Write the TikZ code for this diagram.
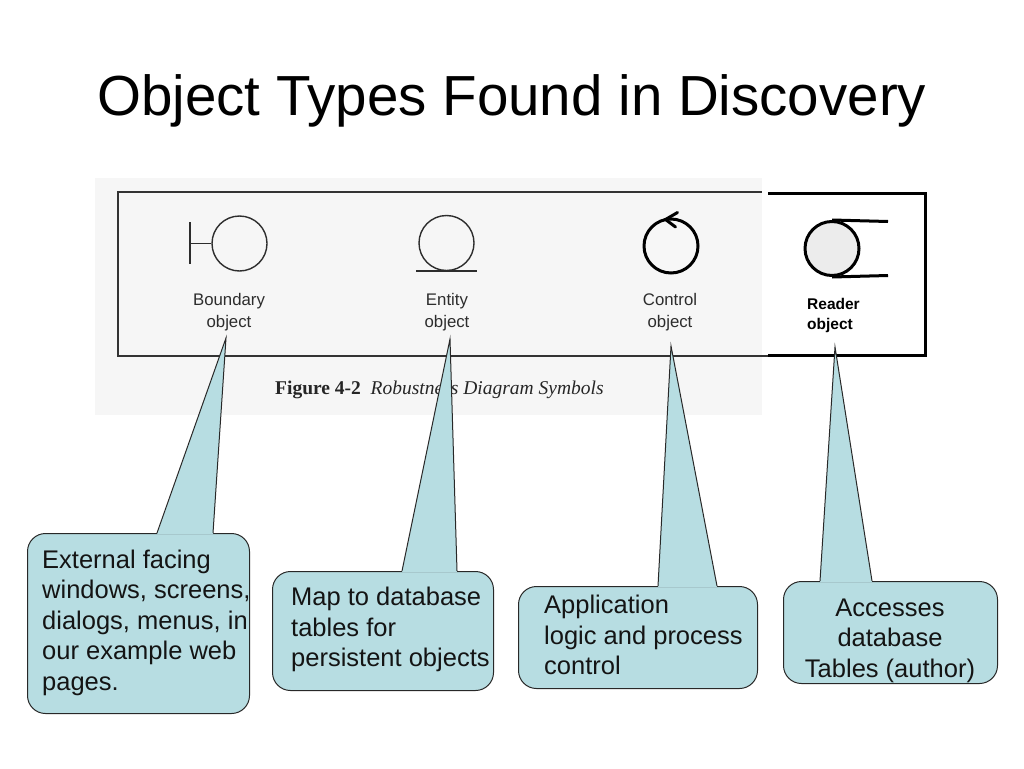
\documentclass[tikz,border=0pt]{standalone}
\usepackage{fontspec}
\setmainfont{Liberation Sans}
\newfontfamily\capfont{Liberation Serif}
\definecolor{callfill}{RGB}{183,221,226}
\definecolor{callline}{RGB}{40,40,40}
\definecolor{scanink}{RGB}{45,45,45}
\definecolor{scanbg}{RGB}{246,246,246}
\definecolor{readerfill}{RGB}{236,236,236}
\begin{document}
\begin{tikzpicture}[x=1pt,y=-1pt,
  calloutbox/.style={draw=callline, fill=callfill, line width=1pt, rounded corners=18pt, inner sep=0pt, anchor=north west},
  callouttext/.style={font=\fontsize{25.5}{30.5}\selectfont, text=black!92, inner sep=0pt, align=left},
  scanlabel/.style={font=\fontsize{16.8}{22}\selectfont, text=scanink, inner sep=0pt, align=center, anchor=north},
  scanline/.style={draw=scanink, line width=1.4pt},
  boldsym/.style={draw=black, line width=3pt},
  pointerfill/.style={fill=callfill},
  pointerline/.style={draw=callline, line width=1pt, line join=miter},
]
\useasboundingbox (0,0) rectangle (1024,768);
\fill[white] (0,0) rectangle (1024,768);

% title
\node[anchor=base west, inner sep=0pt, font=\fontsize{56.5}{60}\selectfont] (title) at (97,115) {Object Types Found in Discovery};

% scanned figure background
\fill[scanbg] (95,178) rectangle (762,415);
\draw[draw=black!80, line width=1.5pt] (770,192) -- (118,192) -- (118,356) -- (770,356);

% reader panel
\fill[white] (762,180) rectangle (925,355);
\draw[boldsym, line join=miter] (768,193) -- (925,193) -- (925,355) -- (768,355);

% caption
\node[anchor=base west, inner sep=0pt, font=\capfont\fontsize{19.5}{24}\selectfont, text=black!85] (cap) at (275,394) {\textbf{Figure 4-2}\enspace\textit{Robustness Diagram Symbols}};

% boundary symbol
\node[circle, scanline, minimum size=55pt, inner sep=0pt] (bcirc) at (239.5,243.5) {};
\coordinate (bbar) at (190,243.5);
\draw[scanline] (190,222) -- (190,264);
\draw[scanline] (bbar) -- (bcirc.west);
\node[scanlabel] (blab) at (229,293) {Boundary\\object};

% entity symbol
\node[circle, scanline, minimum size=55pt, inner sep=0pt] (ecirc) at (446.5,243) {};
\draw[scanline] (416,271) -- (477,271);
\node[scanlabel] (elab) at (447,293) {Entity\\object};

% control symbol
\node[circle, boldsym, fill=black!3, minimum size=54pt, inner sep=0pt] (ccirc) at (671,246) {};
\draw[boldsym, line cap=round, line join=miter] (677.5,212.5) -- (665.5,219.5) -- (675.5,227);
\node[scanlabel] (clab) at (670,293) {Control\\object};

% reader symbol
\coordinate (rtop) at (888,221.5);
\coordinate (rbot) at (888,275.5);
\node[circle, boldsym, fill=readerfill, minimum size=54pt, inner sep=0pt] (rcirc) at (832,248.5) {};
\draw[boldsym] (rcirc.north) -- (rtop);
\draw[boldsym] (rcirc.south) -- (rbot);
\node[anchor=north west, inner sep=0pt, align=left, font=\bfseries\fontsize{15.5}{20}\selectfont] (rlab) at (807,298.5) {Reader\\object};

% pointer tips
\coordinate (tip1) at (226,338);
\coordinate (tip2) at (450,339);
\coordinate (tip3) at (671,346);
\coordinate (tip4) at (835,347);

% callout boxes
\node[calloutbox, minimum width=222pt, minimum height=180pt] (b1) at (27,533) {};
\node[calloutbox, minimum width=221pt, minimum height=119pt] (b2) at (272,571) {};
\node[calloutbox, minimum width=239pt, minimum height=102pt] (b3) at (518,586) {};
\node[calloutbox, minimum width=214pt, minimum height=102pt] (b4) at (783,581) {};

% pointer bases
\coordinate (b1l) at (157,533); \coordinate (b1r) at (213,533);
\coordinate (b2l) at (402,571); \coordinate (b2r) at (457,571);
\coordinate (b3l) at (658,586); \coordinate (b3r) at (717,586);
\coordinate (b4l) at (820,581); \coordinate (b4r) at (872,581);

% pointers
\foreach \l/\t/\r in {b1l/tip1/b1r, b2l/tip2/b2r, b3l/tip3/b3r, b4l/tip4/b4r}{
  \fill[pointerfill] ([yshift=-1.2pt]\l) -- (\t) -- ([yshift=-1.2pt]\r) -- cycle;
  \draw[pointerline] (\l) -- (\t) -- (\r);
}

% callout texts
\node[callouttext, anchor=north west] (t1) at (42,549.5) {External facing\\windows, screens,\\dialogs, menus, in\\our example web\\pages.};
\node[callouttext, anchor=north west] (t2) at (291,587) {Map to database\\tables for\\persistent objects};
\node[callouttext, anchor=north west] (t3) at (544,595) {Application\\logic and process\\control};
\node[callouttext, align=center, anchor=north] (t4) at (890,598.5) {Accesses\\database\\Tables (author)};
\end{tikzpicture}
\end{document}
